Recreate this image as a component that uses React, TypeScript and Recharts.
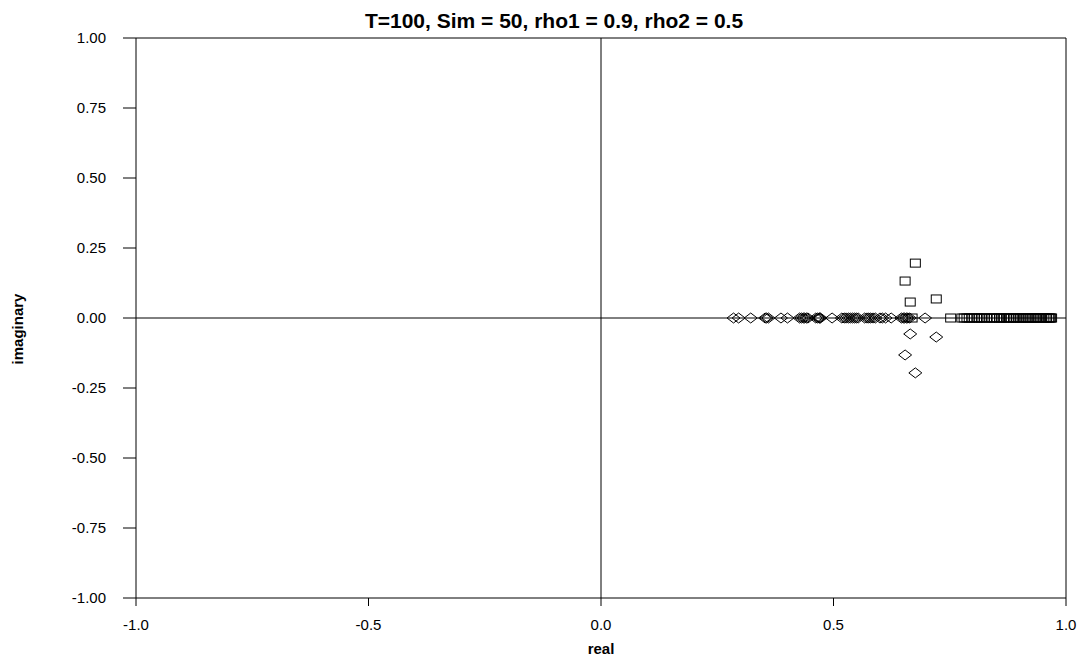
import { ReferenceLine, Scatter, ScatterChart, XAxis, YAxis } from "recharts";

// roots with zero imaginary part
const realRoots1 = [
  0.669, 0.752, 0.776, 0.781, 0.787, 0.792, 0.798, 0.803, 0.809, 0.813, 0.818, 0.824, 0.829, 0.836, 0.841, 0.846,
  0.852, 0.857, 0.861, 0.866, 0.872, 0.876, 0.881, 0.887, 0.89, 0.894, 0.899, 0.903, 0.907, 0.912, 0.916, 0.919,
  0.923, 0.927, 0.931, 0.935, 0.938, 0.942, 0.946, 0.951, 0.955, 0.958, 0.962, 0.965, 0.967, 0.969
];
const realRoots2 = [
  0.285, 0.296, 0.322, 0.353, 0.356, 0.36, 0.387, 0.401, 0.427, 0.431, 0.435, 0.438, 0.442, 0.445, 0.462, 0.466,
  0.469, 0.472, 0.497, 0.518, 0.523, 0.527, 0.532, 0.536, 0.541, 0.545, 0.549, 0.553, 0.567, 0.572, 0.576, 0.58,
  0.585, 0.59, 0.6, 0.605, 0.612, 0.624, 0.646, 0.65, 0.653, 0.657, 0.66, 0.664, 0.697, 0.47
];
// complex conjugate pairs
const complexReal = [0.676, 0.654, 0.665, 0.721];
const complexImag = [0.196, 0.132, 0.057, 0.068];

const xTicks = [-1, -0.5, 0, 0.5, 1];
const yTicks = [-1, -0.75, -0.5, -0.25, 0, 0.25, 0.5, 0.75, 1];

const root1 = [
  ...realRoots1.map((x) => ({ x, y: 0 })),
  ...complexReal.map((x, i) => ({ x, y: complexImag[i] }))
];
const root2 = [
  ...realRoots2.map((x) => ({ x, y: 0 })),
  ...complexReal.map((x, i) => ({ x, y: -complexImag[i] }))
];

const font = "'Liberation Sans', Arial, sans-serif";

const Square = (props: any) => {
  const { cx, cy } = props;
  return <rect x={cx - 5} y={cy - 4} width={10} height={8} fill="none" stroke="#000" strokeWidth={1} />;
};

const Diamond = (props: any) => {
  const { cx, cy } = props;
  return (
    <polygon
      points={`${cx - 6.5},${cy} ${cx},${cy - 5} ${cx + 6.5},${cy} ${cx},${cy + 5}`}
      fill="none"
      stroke="#000"
      strokeWidth={1}
    />
  );
};

export default function App() {
  return (
    <div style={{ position: "absolute", left: 0, top: 0, width: 1083, height: 662, background: "#fff", fontFamily: font }}>
      <ScatterChart width={1083} height={662} margin={{ top: 38, right: 17, bottom: 0, left: 0 }}>
        <XAxis
          type="number"
          dataKey="x"
          domain={[-1, 1]}
          ticks={xTicks}
          tickFormatter={(v: number) => v.toFixed(1)}
          tick={{ fill: "#000", fontSize: 15, fontFamily: font }}
          tickSize={8}
          tickMargin={13}
          height={64}
          axisLine={{ stroke: "#000" }}
          tickLine={{ stroke: "#000" }}
        />
        <YAxis
          type="number"
          dataKey="y"
          domain={[-1, 1]}
          ticks={yTicks}
          tickFormatter={(v: number) => v.toFixed(2)}
          tick={{ fill: "#000", fontSize: 15, fontFamily: font }}
          tickSize={13}
          tickMargin={17}
          width={136}
          axisLine={{ stroke: "#000" }}
          tickLine={{ stroke: "#000" }}
        />
        <ReferenceLine y={1} stroke="#000" strokeWidth={1} />
        <ReferenceLine x={1} stroke="#000" strokeWidth={1} />
        <ReferenceLine y={0} stroke="#000" strokeWidth={1} />
        <ReferenceLine x={0} stroke="#000" strokeWidth={1} />
        <Scatter data={root2} shape={<Diamond />} isAnimationActive={false} />
        <Scatter data={root1} shape={<Square />} isAnimationActive={false} />
      </ScatterChart>
      <div
        style={{
          position: "absolute",
          left: 0,
          width: 1108,
          top: 9,
          lineHeight: "24px",
          textAlign: "center",
          fontSize: 21,
          fontWeight: "bold"
        }}
      >
        T=100, Sim = 50, rho1 = 0.9, rho2 = 0.5
      </div>
      <div
        style={{
          position: "absolute",
          left: 551,
          width: 100,
          top: 640,
          lineHeight: "18px",
          textAlign: "center",
          fontSize: 15,
          fontWeight: "bold"
        }}
      >
        real
      </div>
      <div
        style={{
          position: "absolute",
          left: 18 - 50,
          top: 329 - 9,
          width: 100,
          lineHeight: "18px",
          textAlign: "center",
          fontSize: 15,
          fontWeight: "bold",
          transform: "rotate(-90deg)"
        }}
      >
        imaginary
      </div>
    </div>
  );
}
